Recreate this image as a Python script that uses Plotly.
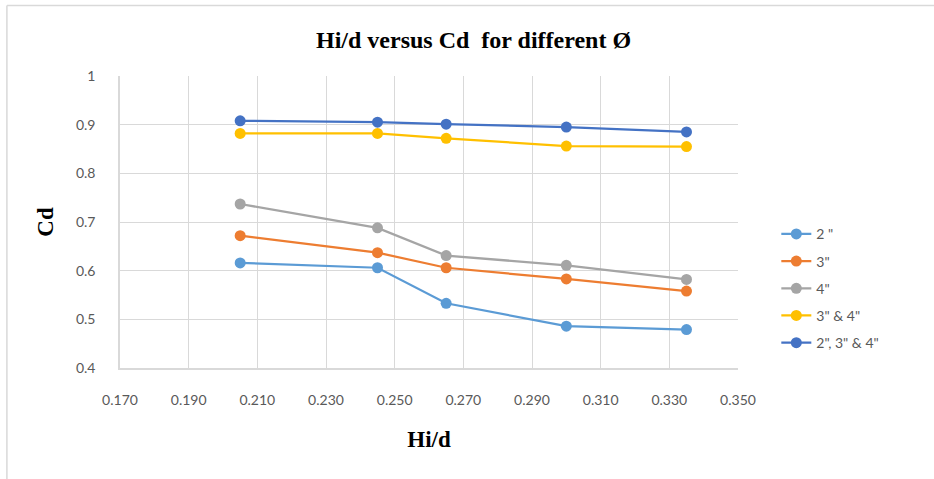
import plotly.graph_objects as go

hi_d = [0.205, 0.245, 0.265, 0.300, 0.335]
series_names = ['2 "', '3"', '4"', '3" & 4"', '2", 3" & 4"']
cd_2 = [0.616, 0.606, 0.533, 0.486, 0.479]
cd_3 = [0.672, 0.637, 0.606, 0.583, 0.558]
cd_4 = [0.737, 0.688, 0.631, 0.611, 0.582]
cd_34 = [0.882, 0.882, 0.872, 0.856, 0.855]
cd_234 = [0.908, 0.905, 0.901, 0.895, 0.885]
colors = ["#5B9BD5", "#ED7D31", "#A5A5A5", "#FFC000", "#4472C4"]
x_ticks = [0.17, 0.19, 0.21, 0.23, 0.25, 0.27, 0.29, 0.31, 0.33, 0.35]
y_ticks = [0.4, 0.5, 0.6, 0.7, 0.8, 0.9, 1.0]

fig = go.Figure()
for i, (name, ys) in enumerate(zip(series_names, [cd_2, cd_3, cd_4, cd_34, cd_234])):
    fig.add_trace(go.Scatter(
        x=hi_d, y=ys, name=name, mode="lines+markers",
        line=dict(color=colors[i], width=2.25),
        marker=dict(color=colors[i], size=11),
        legendgroup=f"g{i}",
    ))

tick_font = dict(family="Lato, Open Sans, sans-serif", size=14, color="#595959")
title_font = dict(family="Liberation Serif, Times New Roman, serif", size=24, color="black")
axis_title_font = dict(family="Liberation Serif, Times New Roman, serif", size=23, color="black")

fig.update_layout(
    width=934, height=479,
    margin=dict(l=120, r=196, t=76, b=111),
    paper_bgcolor="white", plot_bgcolor="white",
    title=dict(text="<b>Hi/d versus Cd  for different Ø</b>", font=title_font,
               x=0.507, xanchor="center", y=0.918, yanchor="middle"),
    showlegend=True,
    legend=dict(x=1.062, y=0.273, xanchor="left", yanchor="middle",
                font=dict(family="Lato, Open Sans, sans-serif", size=14, color="#595959"),
                tracegroupgap=6, bgcolor="rgba(0,0,0,0)"),
    xaxis=dict(range=[0.17, 0.35], tickvals=x_ticks, ticktext=[f"{v:.3f}" for v in x_ticks],
               showgrid=True, gridcolor="#d9d9d9", gridwidth=1,
               showline=True, linecolor="#d9d9d9", linewidth=1.5,
               zeroline=False, tickfont=tick_font, ticks="", ticklabelstandoff=18,
               title=dict(text="<b>Hi/d</b>", font=axis_title_font, standoff=24)),
    yaxis=dict(range=[0.4, 1.0], tickvals=y_ticks, ticktext=["0.4", "0.5", "0.6", "0.7", "0.8", "0.9", "1"],
               showgrid=True, gridcolor="#d9d9d9", gridwidth=1,
               showline=True, linecolor="#d9d9d9", linewidth=1.5,
               zeroline=False, tickfont=tick_font, ticks="", ticklabelstandoff=20,
               title=dict(text="<b>Cd</b>", font=axis_title_font, standoff=16)),
    shapes=[
        dict(type="line", xref="paper", yref="paper", x0=-0.183, x1=1.4, y0=1.2417, y1=1.2417,
             line=dict(color="#d9d9d9", width=1.5)),
        dict(type="line", xref="paper", yref="paper", x0=-0.183, x1=-0.183, y0=1.2417, y1=-0.5,
             line=dict(color="#d9d9d9", width=1.5)),
    ],
)

fig.write_html("out.html")
